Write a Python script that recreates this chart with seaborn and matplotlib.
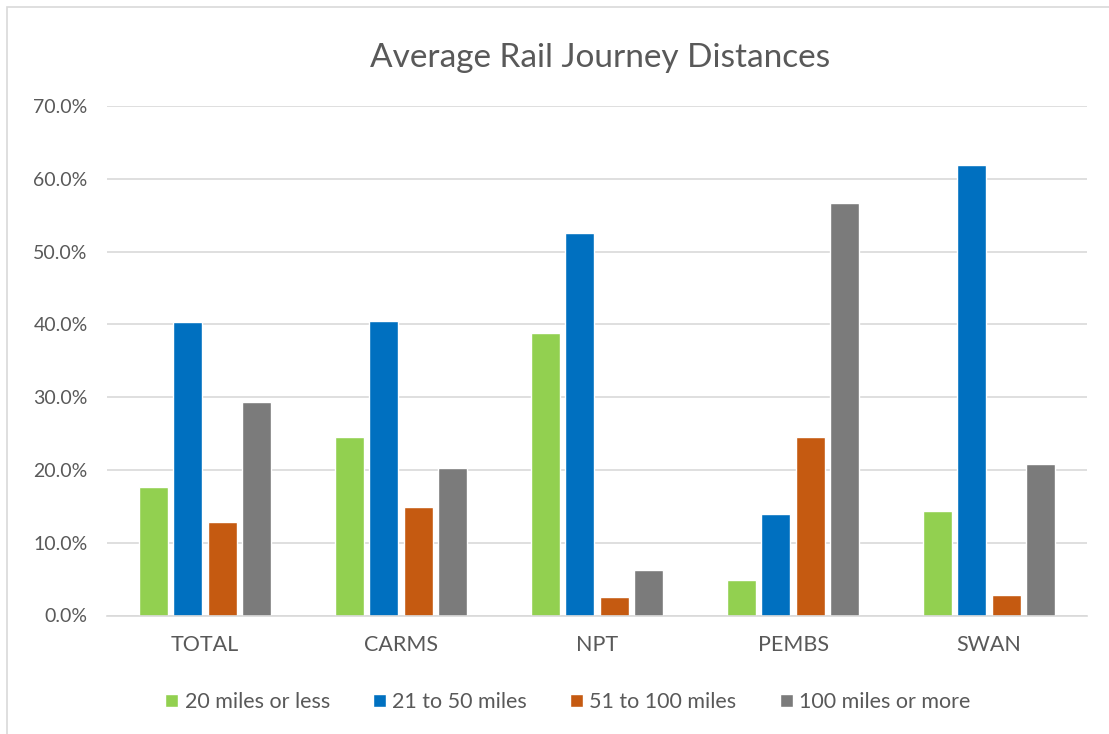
import matplotlib
matplotlib.use("Agg")
import matplotlib.pyplot as plt
import seaborn as sns
import pandas as pd
from matplotlib.patches import Rectangle
from matplotlib.ticker import FuncFormatter

regions = ["TOTAL", "CARMS", "NPT", "PEMBS", "SWAN"]
bands = ["20 miles or less", "21 to 50 miles", "51 to 100 miles", "100 miles or more"]
up_to_20 = [17.6, 24.5, 38.8, 4.9, 14.4]
from_21_to_50 = [40.3, 40.5, 52.6, 14.0, 61.9]
from_51_to_100 = [12.9, 14.9, 2.6, 24.5, 2.8]
over_100 = [29.3, 20.3, 6.3, 56.7, 20.8]
colors = ["#92d050", "#0070c0", "#c55a11", "#7b7b7b"]

rows = []
for band, vals in zip(bands, [up_to_20, from_21_to_50, from_51_to_100, over_100]):
    for reg, v in zip(regions, vals):
        rows.append({"Region": reg, "Band": band, "Share": v})
df = pd.DataFrame(rows)

sns.set_theme(style="white")
plt.rcParams["font.family"] = ["Lato", "DejaVu Sans"]
text_col = "#595959"

W, H = 1109, 734
fig = plt.figure(figsize=(W / 100, H / 100), dpi=100)
ax = fig.add_axes([107 / W, 1 - 615.5 / H, (1087 - 107) / W, (615.5 - 106) / H])

sns.barplot(data=df, x="Region", y="Share", hue="Band", order=regions,
            hue_order=bands, palette=colors, width=0.70, gap=0.16,
            saturation=1, ax=ax, legend=True)

ax.set_ylim(0, 70)
ax.set_yticks(range(0, 71, 10))
ax.yaxis.set_major_formatter(FuncFormatter(lambda v, p: f"{v:.1f}%"))
ax.grid(axis="y", color="#d9d9d9", linewidth=1.2)
ax.set_axisbelow(True)
for s in ["top", "right", "left"]:
    ax.spines[s].set_visible(False)
ax.spines["bottom"].set_color("#d9d9d9")
ax.spines["bottom"].set_linewidth(1.2)
ax.tick_params(axis="both", length=0, colors=text_col)
ax.tick_params(axis="y", pad=14, labelsize=14)
ax.tick_params(axis="x", pad=14, labelsize=15.5)
ax.set_xlabel("")
ax.set_ylabel("")

handles, labels = ax.get_legend_handles_labels()
ax.get_legend().remove()
fig.legend(handles, labels, loc="center", bbox_to_anchor=(0.512, 1 - 702 / H),
           ncol=4, frameon=False, fontsize=15.5, labelcolor=text_col,
           handlelength=0.6, handleheight=0.6, handletextpad=0.3,
           columnspacing=2.0)

fig.text(0.541, 1 - 58 / H, "Average Rail Journey Distances", ha="center",
         va="center", fontsize=24, color=text_col)

fig.patches.append(Rectangle((7 / W, -0.05), 1.1, 1 - 7 / H + 0.05,
                             transform=fig.transFigure, fill=False,
                             edgecolor="#d9d9d9", linewidth=1.2))

fig.savefig("out.png", dpi=100)
